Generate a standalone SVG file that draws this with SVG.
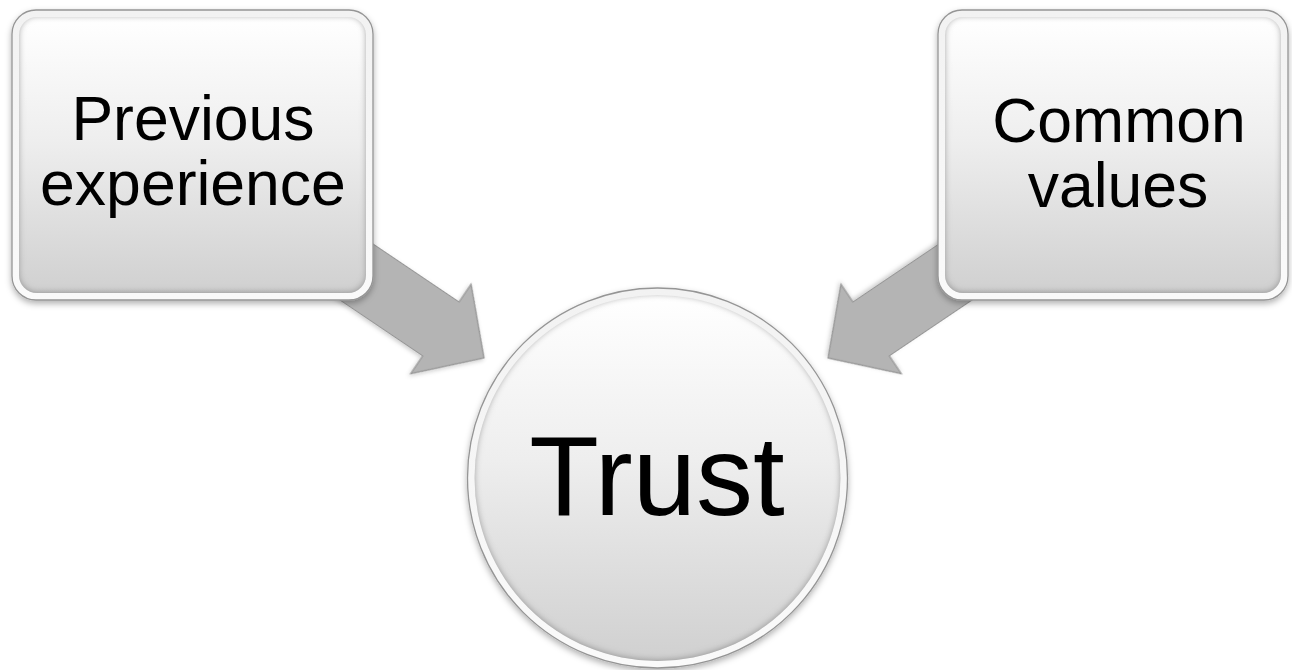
<svg xmlns="http://www.w3.org/2000/svg" width="1292" height="670" viewBox="0 0 1292 670">
  <style>
    .lbl { font-family: "Liberation Sans", Arial, sans-serif; fill: #000; text-anchor: middle; }
    .arrow { fill: #b4b4b4; stroke: #969696; stroke-width: 1.2; stroke-linejoin: miter; }
    .rim { fill: url(#rimGrad); stroke: #959595; stroke-width: 1.3; }
    .panel { fill: url(#panelGrad); filter: url(#inner); }
  </style>
  <defs>
    <linearGradient id="rimGrad" x1="0" y1="0" x2="0" y2="1">
      <stop offset="0" stop-color="#f2f2f2"/>
      <stop offset="1" stop-color="#fafafa"/>
    </linearGradient>
    <linearGradient id="panelGrad" x1="0" y1="0" x2="0" y2="1">
      <stop offset="0" stop-color="#ffffff"/>
      <stop offset="0.45" stop-color="#eeeeee"/>
      <stop offset="1" stop-color="#d0d0d0"/>
    </linearGradient>
    <filter id="inner" x="-5%" y="-5%" width="110%" height="110%">
      <feFlood flood-color="#8a8a8a" flood-opacity="0.9"/>
      <feComposite in2="SourceAlpha" operator="out"/>
      <feGaussianBlur stdDeviation="3"/>
      <feOffset dx="0" dy="-1" result="blur"/>
      <feComposite in="blur" in2="SourceAlpha" operator="in" result="innerShadow"/>
      <feMerge><feMergeNode in="SourceGraphic"/><feMergeNode in="innerShadow"/></feMerge>
    </filter>
    <filter id="shadow" x="-10%" y="-10%" width="120%" height="125%">
      <feDropShadow dx="0" dy="3" stdDeviation="3" flood-color="#000" flood-opacity="0.3"/>
    </filter>
    <filter id="ashadow" x="-10%" y="-10%" width="120%" height="125%">
      <feDropShadow dx="0" dy="2" stdDeviation="2" flood-color="#000" flood-opacity="0.2"/>
    </filter>
  </defs>

  <rect width="1292" height="670" fill="#ffffff"/>

  <g id="connectors">
    <polygon id="arrow-left" class="arrow" filter="url(#ashadow)" transform="translate(484,358) rotate(34)"
             points="0,0 -52,-54 -52,-32.5 -250,-32.5 -250,32.5 -52,32.5 -52,54"/>
    <polygon id="arrow-right" class="arrow" filter="url(#ashadow)" transform="translate(828,358) rotate(146)"
             points="0,0 -52,-54 -52,-32.5 -250,-32.5 -250,32.5 -52,32.5 -52,54"/>
  </g>

  <g id="node-previous" filter="url(#shadow)">
    <rect class="rim" x="12" y="10" width="361" height="290" rx="24" ry="24"/>
    <rect class="panel" x="19" y="17" width="347" height="276" rx="18" ry="18"/>
    <text class="lbl" x="193" y="140" font-size="62.5">Previous</text>
    <text class="lbl" x="193" y="205" font-size="62.5">experience</text>
  </g>

  <g id="node-common" filter="url(#shadow)">
    <rect class="rim" x="938" y="10" width="350" height="290" rx="24" ry="24"/>
    <rect class="panel" x="945" y="17" width="336" height="276" rx="18" ry="18"/>
    <text class="lbl" x="1119" y="142" font-size="62.5">Common</text>
    <text class="lbl" x="1118" y="207" font-size="62.5">values</text>
  </g>

  <g id="node-trust" filter="url(#shadow)">
    <circle class="rim" cx="657.5" cy="478" r="190"/>
    <circle class="panel" cx="657.5" cy="478" r="183"/>
    <text class="lbl" x="657" y="515" font-size="114">Trust</text>
  </g>
</svg>
